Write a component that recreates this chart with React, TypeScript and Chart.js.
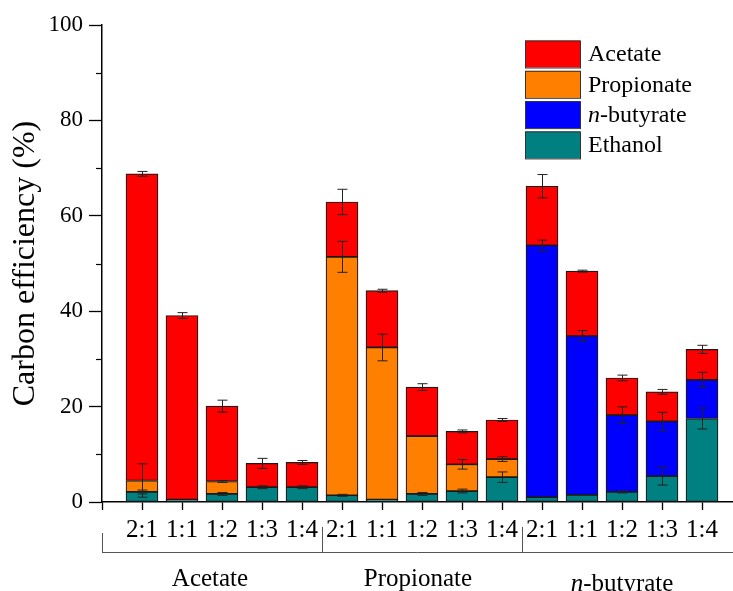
import React, { useEffect, useRef } from "react";
import { Chart, registerables } from "chart.js";

Chart.register(...registerables);

// ---------- data ----------
const ratioLabels = ["2:1", "1:1", "1:2", "1:3", "1:4", "2:1", "1:1", "1:2", "1:3", "1:4", "2:1", "1:1", "1:2", "1:3", "1:4"];
const groupLabels = ["Acetate", "Propionate", "n-butyrate"];
const groupCenters = [2.7, 7.9, 13.0];
const groupDividers = [0, 5.5, 10.5];

const ethanol = [2.1, 0.5, 1.7, 3.1, 3.1, 1.4, 0.5, 1.7, 2.3, 5.2, 1.0, 1.5, 2.1, 5.4, 17.5];
const propionate = [2.4, 0, 2.6, 0, 0, 50.0, 31.9, 12.1, 5.6, 3.8, 0, 0, 0, 0, 0];
const butyrate = [0, 0, 0, 0, 0, 0, 0, 0, 0, 0, 52.8, 33.3, 16.1, 11.5, 8.1];
const acetate = [64.3, 38.6, 15.8, 5.0, 5.2, 11.5, 11.9, 10.3, 6.9, 8.2, 12.4, 13.6, 7.8, 6.2, 6.4];

const ethanolErr = [0.4, 0, 0.3, 0.3, 0.3, 0.2, 0, 0.3, 0.4, 1.1, 0, 0, 0.2, 1.85, 2.2];
const propionateErr = [3.5, 0, 0.2, 0, 0, 3.25, 2.8, 0, 1.0, 0.5, 0, 0, 0, 0, 0];
const butyrateErr = [0, 0, 0, 0, 0, 0, 0, 0, 0, 0, 1.1, 1.15, 1.75, 1.9, 1.6];
const acetateErr = [0.5, 0.6, 1.25, 1.05, 0.4, 2.66, 0.3, 0.7, 0.3, 0.3, 2.45, 0.2, 0.6, 0.5, 0.85];

const yTicks = [0, 20, 40, 60, 80, 100];

const FONT = '"Liberation Serif", "Times New Roman", serif';
const COLORS = { acetate: "#FF0000", propionate: "#FF8000", butyrate: "#0000FF", ethanol: "#008080" };

const seriesList = [
  { label: "Ethanol", values: ethanol, errs: ethanolErr, color: COLORS.ethanol },
  { label: "Propionate", values: propionate, errs: propionateErr, color: COLORS.propionate },
  { label: "n-butyrate", values: butyrate, errs: butyrateErr, color: COLORS.butyrate },
  { label: "Acetate", values: acetate, errs: acetateErr, color: COLORS.acetate },
];

const legendItems = [
  { text: "Acetate", color: COLORS.acetate },
  { text: "Propionate", color: COLORS.propionate },
  { text: "n-butyrate", color: COLORS.butyrate },
  { text: "Ethanol", color: COLORS.ethanol },
];

function drawMixed(ctx: CanvasRenderingContext2D, text: string, x: number, y: number, size: number, align: "left" | "center") {
  const italicPart = text.startsWith("n-") ? "n" : "";
  const rest = italicPart ? text.slice(1) : text;
  ctx.font = `italic ${size}px ${FONT}`;
  const w1 = italicPart ? ctx.measureText(italicPart).width : 0;
  ctx.font = `${size}px ${FONT}`;
  const w2 = ctx.measureText(rest).width;
  let sx = align === "center" ? x - (w1 + w2) / 2 : x;
  ctx.textAlign = "left";
  if (italicPart) {
    ctx.font = `italic ${size}px ${FONT}`;
    ctx.fillText(italicPart, sx, y);
    sx += w1;
  }
  ctx.font = `${size}px ${FONT}`;
  ctx.fillText(rest, sx, y);
}

const decorPlugin = {
  id: "decor",
  afterDatasetsDraw(chart: any) {
    const ctx: CanvasRenderingContext2D = chart.ctx;
    const xs = chart.scales.x;
    const ys = chart.scales.y;
    ctx.save();
    ctx.strokeStyle = "#222";
    ctx.lineWidth = 1;
    for (let i = 0; i < ratioLabels.length; i++) {
      let base = 0;
      for (const s of seriesList) {
        const v = s.values[i];
        const top = base + v;
        const e = s.errs[i];
        if (v > 0 && e > 0) {
          const x = Math.round(xs.getPixelForValue(i + 1)) + 0.5;
          const y1 = ys.getPixelForValue(top + e);
          const y2 = ys.getPixelForValue(top - e);
          ctx.beginPath();
          ctx.moveTo(x, y1);
          ctx.lineTo(x, y2);
          ctx.moveTo(x - 5, y1);
          ctx.lineTo(x + 5, y1);
          ctx.moveTo(x - 5, y2);
          ctx.lineTo(x + 5, y2);
          ctx.stroke();
        }
        base = top;
      }
    }
    ctx.restore();
  },
  afterDraw(chart: any) {
    const ctx: CanvasRenderingContext2D = chart.ctx;
    const xs = chart.scales.x;
    const ys = chart.scales.y;
    const area = chart.chartArea;
    ctx.save();
    // minor y ticks
    ctx.strokeStyle = "#000";
    ctx.lineWidth = 1.2;
    for (let v = 10; v < 100; v += 20) {
      const y = Math.round(ys.getPixelForValue(v)) + 0.5;
      ctx.beginPath();
      ctx.moveTo(area.left - 6, y);
      ctx.lineTo(area.left, y);
      ctx.stroke();
    }
    // group brackets
    ctx.strokeStyle = "#555";
    ctx.lineWidth = 1;
    const yLine = 552.5;
    ctx.beginPath();
    ctx.moveTo(xs.getPixelForValue(groupDividers[0]), yLine);
    ctx.lineTo(area.right, yLine);
    groupDividers.forEach((d, k) => {
      const x = Math.round(xs.getPixelForValue(d)) + 0.5;
      ctx.moveTo(x, k === 0 ? 533 : 527);
      ctx.lineTo(x, yLine);
    });
    ctx.stroke();
    // group labels
    ctx.fillStyle = "#000";
    ctx.textBaseline = "alphabetic";
    groupLabels.forEach((g, k) => {
      const x = xs.getPixelForValue(groupCenters[k]);
      drawMixed(ctx, g, x, k === 2 ? 591 : 586, 25, "center");
    });
    // legend
    const bx = 525, bw = 55, bh = 27, by0 = 40.5, step = 30.3;
    legendItems.forEach((it, k) => {
      const by = by0 + k * step;
      ctx.fillStyle = it.color;
      ctx.fillRect(bx, by, bw, bh);
      ctx.strokeStyle = "#333";
      ctx.lineWidth = 1;
      ctx.strokeRect(bx + 0.5, by + 0.5, bw, bh);
      ctx.fillStyle = "#000";
      ctx.textBaseline = "middle";
      drawMixed(ctx, it.text, 588, by + bh / 2 + 1, 24, "left");
    });
    ctx.restore();
  },
};

export default function App() {
  const ref = useRef<HTMLCanvasElement | null>(null);
  useEffect(() => {
    if (!ref.current) return;
    const datasets = seriesList.map((s) => ({
      label: s.label,
      data: s.values.map((v, i) => ({ x: i + 1, y: v })).filter((d) => d.y > 0),
      backgroundColor: s.color,
      borderColor: "#1a1a1a",
      borderWidth: 1.2,
      borderSkipped: false,
      barThickness: 32,
    }));
    const chart = new Chart(ref.current, {
      type: "bar",
      data: { datasets } as any,
      options: {
        animation: false,
        responsive: false,
        maintainAspectRatio: false,
        layout: { padding: { top: 25, right: 0, bottom: 0, left: 0 } },
        plugins: { legend: { display: false }, tooltip: { enabled: false } },
        scales: {
          x: {
            type: "linear",
            stacked: true,
            offset: false,
            min: 0,
            max: 15.775,
            afterBuildTicks: (scale: any) => {
              scale.ticks = Array.from({ length: ratioLabels.length + 1 }, (_, i) => ({ value: i }));
            },
            afterFit: (scale: any) => {
              scale.height = 89;
            },
            ticks: {
              autoSkip: false,
              maxRotation: 0,
              minRotation: 0,
              padding: 5,
              color: "#000",
              font: { family: FONT, size: 25 },
              callback: (v: any) => (v >= 1 ? ratioLabels[v - 1] : ""),
            },
            grid: { drawOnChartArea: false, drawTicks: true, offset: false, tickLength: 8, tickColor: "#000", tickWidth: 1.3 },
            border: { display: true, color: "#000", width: 1.5 },
          },
          y: {
            stacked: true,
            min: 0,
            max: 100,
            afterBuildTicks: (scale: any) => {
              scale.ticks = yTicks.map((v) => ({ value: v }));
            },
            afterFit: (scale: any) => {
              scale.width = 102;
            },
            ticks: {
              padding: 6,
              color: "#000",
              font: { family: FONT, size: 23 },
            },
            grid: { drawOnChartArea: false, drawTicks: true, tickLength: 13, tickColor: "#000", tickWidth: 1.3 },
            border: { display: true, color: "#000", width: 1.5 },
            title: {
              display: true,
              text: "Carbon efficiency (%)",
              color: "#000",
              font: { family: FONT, size: 32 },
              padding: { top: 6, bottom: 0 },
            },
          },
        },
      },
      plugins: [decorPlugin],
    });
    return () => chart.destroy();
  }, []);
  return (
    <div style={{ position: "fixed", left: 0, top: 0, width: 733, height: 591, background: "#fff" }}>
      <canvas ref={ref} width={733} height={591} style={{ display: "block", width: 733, height: 591 }} />
    </div>
  );
}
